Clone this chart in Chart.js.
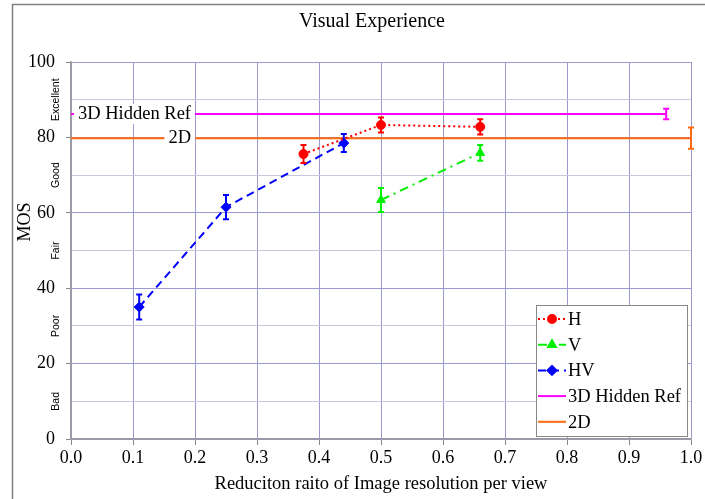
<!DOCTYPE html>
<html>
<head>
<meta charset="utf-8">
<script src="https://cdn.jsdelivr.net/npm/chart.js@4"></script>
<style>
  body { margin: 0; background: #fff; }
  #wrap { position: relative; width: 705px; height: 499px; }
</style>
</head>
<body>
<div id="wrap"><canvas id="myChart" width="705" height="499"></canvas></div>
<script>
// data
var hX = [0.375, 0.5, 0.66];
var hY = [75.6, 83.3, 82.8];
var hErr = [2.4, 2.0, 2.0];

var vX = [0.5, 0.66];
var vY = [63.4, 75.9];
var vErr = [3.2, 2.1];

var hvX = [0.11, 0.25, 0.44];
var hvY = [35.0, 61.5, 78.5];
var hvErr = [3.3, 3.2, 2.4];

var refX = [0, 0.96];
var refY = [86.2, 86.2];
var refErr = [0, 1.4];

var twoDX = [0, 1.0];
var twoDY = [79.8, 79.8];
var twoDErr = [0, 2.8];

var qualityLabels = ["Bad", "Poor", "Fair", "Good", "Excellent"];
var qualityAt = [10, 30, 50, 70, 90];

function pts(xs, ys) {
    return xs.map(function(x, i){ return {x: x, y: ys[i]}; });
}

var serif = "'Liberation Serif', 'DejaVu Serif', serif";

var datasets = [
    { label: 'H', data: pts(hX, hY), err: hErr, borderColor: '#ff0000', backgroundColor: '#ff0000',
      borderDash: [2, 3], pointStyle: 'circle', pointRadius: 4.5 },
    { label: 'V', data: pts(vX, vY), err: vErr, borderColor: '#00ee00', backgroundColor: '#00ee00',
      borderDash: [9, 5, 2, 5], pointStyle: 'triangle', pointRadius: 5 },
    { label: 'HV', data: pts(hvX, hvY), err: hvErr, borderColor: '#0000ff', backgroundColor: '#0000ff',
      borderDash: [8, 5], pointStyle: 'rectRot', pointRadius: 5 },
    { label: '3D Hidden Ref', data: pts(refX, refY), err: refErr, borderColor: '#ff00ff', backgroundColor: '#ff00ff',
      pointRadius: 0 },
    { label: '2D', data: pts(twoDX, twoDY), err: twoDErr, borderColor: '#ff6a10', backgroundColor: '#ff6a10',
      pointRadius: 0 }
];
datasets.forEach(function(d){ d.showLine = true; d.borderWidth = 2; d.pointBorderWidth = 1; });

// frame, titles, error bars, line labels, quality labels and the legend box
var extras = {
    id: 'extras',
    beforeDraw: function(chart) {
        var c = chart.ctx;
        c.save();
        c.strokeStyle = '#808080';
        c.lineWidth = 1.5;
        c.beginPath();
        c.moveTo(12.5, 499);
        c.lineTo(12.5, 4.5);
        c.lineTo(705, 4.5);
        c.stroke();

        c.fillStyle = '#000';
        c.textAlign = 'center';
        c.textBaseline = 'middle';
        c.font = '20px ' + serif;
        c.fillText('Visual Experience', 372, 22);

        c.font = '18px ' + serif;
        c.translate(25, 222);
        c.rotate(-Math.PI / 2);
        c.fillText('MOS', 0, 0);
        c.restore();
    },
    afterDatasetsDraw: function(chart) {
        var c = chart.ctx, ys = chart.scales.y;
        c.save();
        chart.data.datasets.forEach(function(ds, i){
            var meta = chart.getDatasetMeta(i);
            c.strokeStyle = ds.borderColor;
            c.lineWidth = 2;
            meta.data.forEach(function(p, j){
                var e = ds.err[j];
                if (!e) return;
                var v = ds.data[j].y;
                var top = ys.getPixelForValue(v + e), bot = ys.getPixelForValue(v - e);
                c.beginPath();
                c.moveTo(p.x, top); c.lineTo(p.x, bot);
                c.moveTo(p.x - 3, top); c.lineTo(p.x + 3, top);
                c.moveTo(p.x - 3, bot); c.lineTo(p.x + 3, bot);
                c.stroke();
            });
        });

        // labels sitting on the two reference lines
        c.font = '18.5px ' + serif;
        c.textBaseline = 'middle';
        c.textAlign = 'right';
        var right = 195;
        [[refY[0], '3D Hidden Ref'], [twoDY[0], '2D']].forEach(function(l){
            var y = ys.getPixelForValue(l[0]);
            var w = c.measureText(l[1]).width + 8;
            c.fillStyle = '#fff';
            c.fillRect(right - w, y - 10, w, 20);
            c.fillStyle = '#000';
            c.fillText(l[1], right - 4, y);
        });

        // quality words next to the y axis
        c.font = '10.5px "Liberation Sans", Arial, sans-serif';
        c.textAlign = 'center';
        c.fillStyle = '#000';
        qualityLabels.forEach(function(t, k){
            var y = ys.getPixelForValue(qualityAt[k]);
            c.save();
            c.translate(56, y);
            c.rotate(-Math.PI / 2);
            c.fillText(t, 0, 0);
            c.restore();
        });

        // legend
        var lx = 536, ly = 305, lw = 151, lh = 131;
        c.fillStyle = '#fff';
        c.fillRect(lx, ly, lw, lh);
        c.strokeStyle = '#888';
        c.lineWidth = 1;
        c.strokeRect(lx + 0.5, ly + 0.5, lw, lh);
        c.font = '18.5px ' + serif;
        c.textAlign = 'left';
        chart.data.datasets.forEach(function(ds, i){
            var y = ly + 14 + i * 25.7;
            c.strokeStyle = ds.borderColor;
            c.lineWidth = 2;
            c.setLineDash(ds.borderDash || []);
            c.beginPath();
            c.moveTo(lx + 2, y); c.lineTo(lx + 30, y);
            c.stroke();
            c.setLineDash([]);
            if (ds.pointRadius) {
                Chart.helpers.drawPoint(c, { pointStyle: ds.pointStyle, radius: ds.pointRadius - 0.5, borderWidth: 1 }, lx + 16, y);
                c.fillStyle = ds.backgroundColor;
                c.fill();
            }
            c.fillStyle = '#000';
            c.fillText(ds.label, lx + 32, y + 1);
        });
        c.restore();
    }
};

var ctx = document.getElementById("myChart");
var myChart = new Chart(ctx, {
    type: 'scatter',
    data: { datasets: datasets },
    plugins: [extras],
    options: {
        responsive: false,
        animation: false,
        layout: { padding: { left: 13, right: 14, top: 62, bottom: 0 } },
        plugins: {
            legend: { display: false },
            tooltip: { enabled: false },
            title: { display: false }
        },
        scales: {
            x: {
                type: 'linear',
                min: 0, max: 1,
                afterFit: function(s){ s.height = 60; },
                ticks: {
                    stepSize: 0.1,
                    color: '#000',
                    font: { family: serif, size: 18 },
                    padding: 2,
                    callback: function(v){ return v.toFixed(1); }
                },
                grid: { color: '#9a9ad0', tickColor: '#888', tickLength: 6, lineWidth: 1 },
                border: { color: '#999', width: 1.5 },
                title: {
                    display: true,
                    text: 'Reduciton raito of Image resolution per view',
                    color: '#000',
                    font: { family: serif, size: 18.5 },
                    padding: { top: 2, bottom: 4 }
                }
            },
            y: {
                min: 0, max: 100,
                afterFit: function(s){ s.width = 58; },
                ticks: {
                    stepSize: 10,
                    color: '#000',
                    font: { family: serif, size: 18 },
                    padding: 11,
                    callback: function(v){ return v % 20 === 0 ? v : ''; }
                },
                grid: {
                    color: function(c){ return c.tick && c.tick.value % 20 === 0 ? '#9a9ad0' : '#c8c8dc'; },
                    tickColor: function(c){ return c.tick && c.tick.value % 20 === 0 ? '#888' : 'rgba(0,0,0,0)'; },
                    tickLength: 5
                },
                border: { color: '#999', width: 1.5 },
                title: { display: false }
            }
        }
    }
});
</script>
</body>
</html>
